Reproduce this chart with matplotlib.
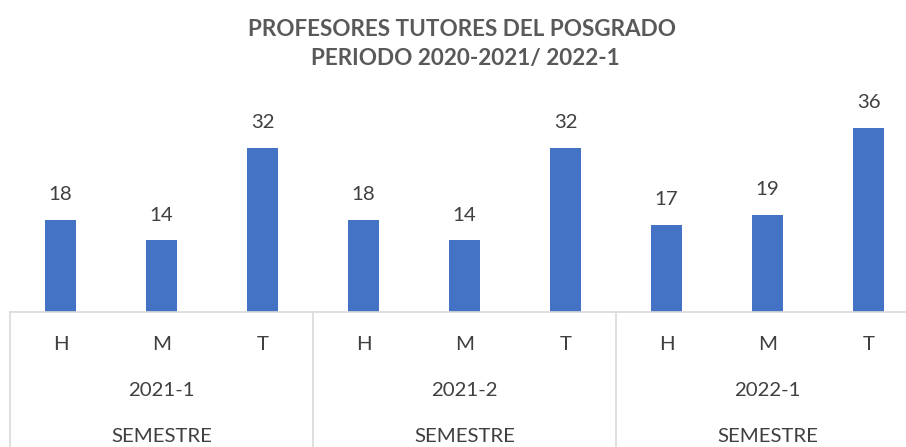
import matplotlib.pyplot as plt
import matplotlib.transforms as mtransforms
from matplotlib.lines import Line2D

# datos del grafico
semestres = ['2021-1', '2021-2', '2022-1']
tipos = ['H', 'M', 'T']
valores_2021_1 = [18, 14, 32]
valores_2021_2 = [18, 14, 32]
valores_2022_1 = [17, 19, 36]

valores = valores_2021_1 + valores_2021_2 + valores_2022_1
etiquetas = tipos * len(semestres)
x = list(range(len(valores)))

plt.rcParams['font.family'] = ['Lato', 'DejaVu Sans']

W, H = 906, 447
fig = plt.figure(figsize=(W / 100, H / 100), dpi=100)

# axes positioned in pixels (the right end is cut off like the original)
left_px, right_px, base_px = 10, 919, 312
ymax = 40
top_px = base_px - ymax * 5.125
ax = fig.add_axes([left_px / W, 1 - base_px / H,
                   (right_px - left_px) / W, (base_px - top_px) / H])

azul = '#4472C4'
gris = '#404040'
linea = '#D9D9D9'

ax.bar(x, valores, width=0.31, color=azul)
ax.set_xlim(-0.5, len(valores) - 0.5)
ax.set_ylim(0, ymax)
ax.axis('off')

fs = 14.7
for xi, v in zip(x, valores):
    ax.annotate(str(v), (xi, v), xytext=(0, 25), textcoords='offset pixels',
                ha='center', va='center', fontsize=fs, color=gris)

trans = mtransforms.blended_transform_factory(ax.transData, fig.transFigure)

def fy(px):
    return 1 - px / H

# categoria H/M/T
for xi, lab in zip(x, etiquetas):
    ax.text(xi, fy(345), lab, transform=trans, ha='center', va='center',
            fontsize=fs, color=gris)

# semestres
for i, s in enumerate(semestres):
    ax.text(3 * i + 1, fy(391), s, transform=trans, ha='center', va='center',
            fontsize=fs, color=gris)
    ax.text(3 * i + 1, fy(437), 'SEMESTRE', transform=trans, ha='center',
            va='center', fontsize=fs, color=gris)

# lineas del eje
fig.add_artist(Line2D([left_px / W, 1], [fy(base_px), fy(base_px)],
                      color=linea, lw=1.2))
for b in [-0.5, 2.5, 5.5, 8.5]:
    ax.plot([b, b], [fy(base_px), 0], transform=trans, color=linea, lw=1.2,
            clip_on=False)

fig.text(462 / W, fy(29), 'PROFESORES TUTORES DEL POSGRADO', ha='center',
         va='center', fontsize=16.2, fontweight='bold', color='#595959')
fig.text(465 / W, fy(58), 'PERIODO 2020-2021/ 2022-1', ha='center',
         va='center', fontsize=16.2, fontweight='bold', color='#595959')

fig.savefig('out.png', dpi=100)
